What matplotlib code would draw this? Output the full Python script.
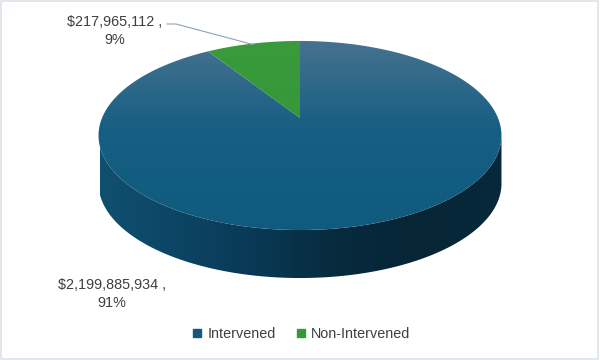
import numpy as np
import matplotlib.pyplot as plt
from matplotlib.patches import Polygon, Rectangle
from matplotlib.colors import LinearSegmentedColormap
from matplotlib.lines import Line2D

plt.rcParams['font.family'] = ['Liberation Sans', 'DejaVu Sans']

# data
categories = ['Intervened', 'Non-Intervened']
amounts = [2199885934, 217965112]
legend_colors = ['#17587a', '#339a35']

# 3d pie geometry (pixel space)
cx, cy, r, s, k, depth = 300, 118, 198, 91.3, 0.185, 48


def proj(theta_deg, dz=0.0):
    # theta measured clockwise from 12 o'clock, simple perspective tilt
    t = np.radians(theta_deg)
    x = np.sin(t)
    y = -np.cos(t)
    w = 1 - k * y
    return cx + r * x / w, cy + s * y / w + dz


fig = plt.figure(figsize=(6, 3.6), dpi=100)
ax = fig.add_axes([0, 0, 1, 1])

fracs = np.array(amounts) / np.sum(amounts)
starts = np.concatenate([[0], np.cumsum(fracs)[:-1]]) * 360
spans = fracs * 360

# side wall (front only)
edge = np.degrees(np.arccos(-k))
th = np.linspace(edge, 360 - edge, 200)
tx, ty = proj(th)
bx, by = proj(th[::-1], depth)
wall = Polygon(np.column_stack([np.r_[tx, bx], np.r_[ty, by]]), closed=True,
               facecolor='none', edgecolor='none')
ax.add_patch(wall)
wall_cmap = LinearSegmentedColormap.from_list(
    'wall', ['#10506f', '#0c4464', '#093853', '#072a3d', '#062535', '#07293b'])
grad_x = np.tile(np.linspace(0, 1, 400), (360, 1))
im = ax.imshow(grad_x, cmap=wall_cmap, extent=[100, 502, 360, 0],
               aspect='auto', zorder=1, interpolation='bilinear')
im.set_clip_path(wall)

# top faces
top_cmaps = [
    LinearSegmentedColormap.from_list('t0', [(0, '#47728f'), (0.45, '#175f84'), (1, '#0f5a7e')]),
    LinearSegmentedColormap.from_list('t1', [(0, '#3a9a3c'), (1, '#2f9632')]),
]
grad_y = np.tile(np.linspace(0, 1, 200)[:, None], (1, 10))
for st, sp, cm in zip(starts, spans, top_cmaps):
    th = np.linspace(st, st + sp, 200)
    px, py = proj(th)
    face = Polygon(np.column_stack([np.r_[cx, px], np.r_[cy, py]]), closed=True,
                   facecolor='none', edgecolor='none')
    ax.add_patch(face)
    im = ax.imshow(grad_y, cmap=cm, extent=[90, 510, 232, 40],
                   aspect='auto', zorder=2, interpolation='bilinear')
    im.set_clip_path(face)

# data labels
lab = [f'${a:,} ,\n{f * 100:.0f}%' for a, f in zip(amounts, fracs)]
ax.text(112, 294, lab[0], ha='center', va='center', fontsize=10.4,
        color='#3f3f3f', linespacing=1.35)
ax.text(115, 31, lab[1], ha='center', va='center', fontsize=10.4,
        color='#3f3f3f', linespacing=1.35)
mx, my = proj(starts[1] + spans[1] / 2)
ax.plot([167, 176, mx], [24, 24, my + 1], color='#8aa3b5', lw=0.8, zorder=3)

ax.set_xlim(0, 600)
ax.set_ylim(360, 0)
ax.axis('off')

# border
fig.patches.append(Rectangle((0.002, 0.003), 0.995, 0.993, transform=fig.transFigure,
                             fill=False, edgecolor='#dbe3ea', lw=1.2))

handles = [Line2D([], [], marker='s', ls='', color=c, markersize=5.5) for c in legend_colors]
fig.legend(handles, categories, loc='center', bbox_to_anchor=(0.502, 0.072), ncol=2,
           frameon=False, fontsize=10.4, handlelength=0.7, handletextpad=0.35,
           columnspacing=1.4, labelcolor='#3f3f3f')

fig.savefig('out.png', dpi=100)
